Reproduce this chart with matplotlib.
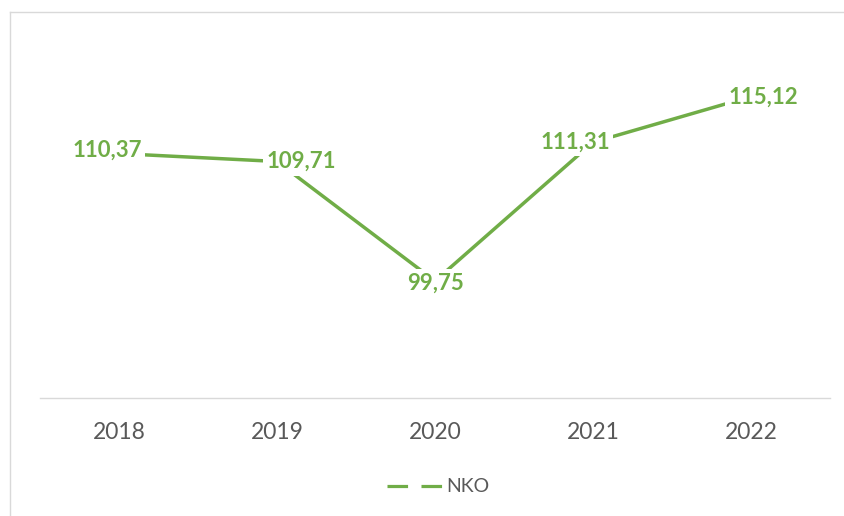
import matplotlib
matplotlib.use('Agg')
import matplotlib.pyplot as plt
from matplotlib.lines import Line2D

years = ['2018', '2019', '2020', '2021', '2022']
nko = [110.37, 109.71, 99.75, 111.31, 115.12]
series_name = 'NKO'

green = '#70AD47'
grey_text = '#595959'
grey_line = '#D9D9D9'

# label nudges in pixels, the way Excel placed them
label_offsets = [(-12, 3), (24, 0), (0, -2), (-18, 0), (12, -1)]

plt.rcParams['font.family'] = ['Lato', 'DejaVu Sans']

W, H = 845, 516
fig = plt.figure(figsize=(W / 100, H / 100), dpi=100)
ax = fig.add_axes([40 / W, 1 - 398 / H, 790 / W, 360 / H])

x = list(range(len(years)))
ax.plot(x, nko, color=green, lw=2.5, solid_capstyle='round', zorder=2)

for xi, v, (dx, dy) in zip(x, nko, label_offsets):
    txt = '{:.2f}'.format(v).replace('.', ',')
    ax.annotate(txt, (xi, v), xytext=(dx, dy), textcoords='offset pixels',
                ha='center', va='center', fontsize=16, fontweight='bold', color=green,
                bbox=dict(facecolor='white', edgecolor='none', pad=2.5), zorder=3)

ax.set_xlim(-0.5, len(years) - 0.5)
ax.set_ylim(90, 120)
ax.set_xticks(x)
ax.set_xticklabels(years, fontsize=16.5, color=grey_text)
ax.tick_params(axis='x', length=0, pad=17)
ax.set_yticks([])
for side in ['top', 'left', 'right']:
    ax.spines[side].set_visible(False)
ax.spines['bottom'].set_color(grey_line)
ax.spines['bottom'].set_linewidth(1.0)

handle = Line2D([], [], color=green, lw=2.3, linestyle=(0, (6.44, 4.2)))
fig.legend([handle], [series_name], loc='center', bbox_to_anchor=(438 / W, 1 - 487 / H),
           frameon=False, fontsize=14, labelcolor=grey_text, handlelength=2.81,
           handletextpad=0.23, borderpad=0, borderaxespad=0)

# chart area border (only the top and left edges are inside the picture)
fig.add_artist(Line2D([10.3 / W, 1], [1 - 11.5 / H, 1 - 11.5 / H], color=grey_line, lw=1.0))
fig.add_artist(Line2D([10.3 / W, 10.3 / W], [0, 1 - 11.5 / H], color=grey_line, lw=1.0))

plt.savefig('out.png', dpi=100)
